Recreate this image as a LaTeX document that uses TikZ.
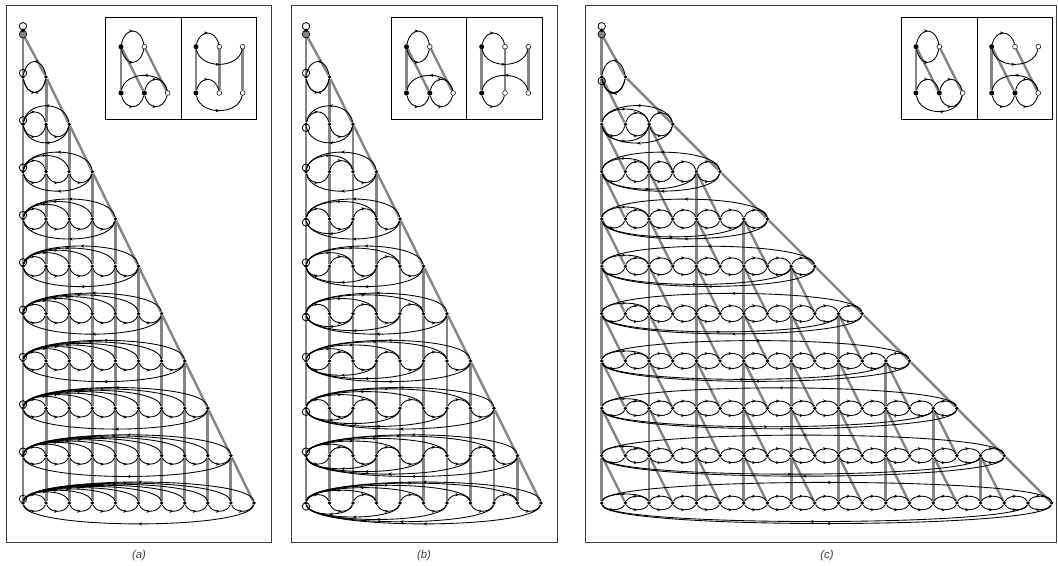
\documentclass[tikz,border=0pt]{standalone}
\usepackage{fontspec}
\setsansfont{Liberation Sans}
\usepackage{xcolor}
\usetikzlibrary{arrows.meta,decorations.markings,shapes}
\definecolor{ink}{HTML}{000000}
\definecolor{edgegray}{HTML}{858585}
\definecolor{framegray}{HTML}{3C3C3C}
\definecolor{capgray}{HTML}{404040}
\pgfdeclarelayer{under}
\pgfsetlayers{under,main}
\tikzset{
  dotnode/.style={circle,fill=ink,inner sep=0pt,minimum size=2.8pt},
  blacknode/.style={circle,fill=ink,inner sep=0pt,minimum size=3.8pt},
  whitenode/.style={circle,draw=ink,fill=white,line width=0.4pt,inner sep=0pt,minimum size=3.6pt},
  ringnode/.style={circle,draw=ink,line width=0.6pt,inner sep=0pt,minimum size=5.6pt},
  apexnode/.style={circle,draw=ink,fill=edgegray,line width=0.5pt,inner sep=0pt,minimum size=5.6pt},
  arcline/.style={draw=ink,line width=0.65pt,postaction={decorate},
    decoration={markings,mark=at position 0.5 with {\arrow{Stealth[length=2.6pt,width=2.4pt]}}}},
  grayedge/.style={draw=edgegray,line width=1.8pt},
  grayvert/.style={draw=edgegray,line width=2.12pt},
  framebox/.style={draw=framegray,line width=0.6pt},
  insetbox/.style={draw=ink,line width=0.7pt},
  caption/.style={font=\fontsize{8.5}{10}\sffamily\itshape,text=capgray}
}
% arcs between two named nodes, #3 is the height in px; rev variants run right to left
\newcommand{\uparc}[3]{\draw[arcline] (#1) .. controls +(4,{-1.333*(#3)}) and +(-4,{-1.333*(#3)}) .. (#2);}
\newcommand{\lowarc}[3]{\draw[arcline] (#1) .. controls +(4,{1.333*(#3)}) and +(-4,{1.333*(#3)}) .. (#2);}
\newcommand{\uprev}[3]{\draw[arcline] (#1) .. controls +(-4,{-1.333*(#3)}) and +(4,{-1.333*(#3)}) .. (#2);}
\newcommand{\lowrev}[3]{\draw[arcline] (#1) .. controls +(-4,{1.333*(#3)}) and +(4,{1.333*(#3)}) .. (#2);}
% the end points of one gadget
\newcommand{\gadgetnodes}[8]{
  \node[blacknode] (#1-t0) at (#2,46.7) {};
  \node[whitenode] (#1-t1) at (#2+23.3,46.7) {};
  \node[#3] (#1-t2) at (#2+46.6,46.7) {};
  \node[blacknode] (#1-b0) at (#2,93) {};
  \node[#4] (#1-b1) at (#2+23.3,93) {};
  \node[whitenode] (#1-b2) at (#2+46.6,93) {};
  \begin{pgfonlayer}{under}
    \draw[grayvert] (#1-t0) -- (#1-b0);
    \draw[grayedge] (#5) -- (#6);
    \draw[grayedge] (#7) -- (#8);
  \end{pgfonlayer}
}
\tikzset{nonode/.style={inner sep=0pt,minimum size=0pt}}
\begin{document}
\begin{tikzpicture}[x=0.75pt,y=-0.75pt]
  \useasboundingbox (0,0) rectangle (1058,566);
  % ---- frames and captions ----
  \draw[framebox] (6,5) rectangle (271,542);
  \draw[framebox] (291,5) rectangle (557,542);
  \draw[framebox] (585,5) rectangle (1056,542);
  \node[caption] (capa) at (139,556) {(a)};
  \node[caption] (capb) at (424,556) {(b)};
  \node[caption] (capc) at (827,556) {(c)};
  % ---- panel a: full fan over a lower wave ----
  \begin{scope}[shift={(23,0)}]
    \node[apexnode] (a-apex) at (0,34.3) {};
    \node[ringnode] (a-top) at (0,26.3) {};
    \node[dotnode] (a-tip) at (0,30.3) {};
    \foreach \k in {1,...,10}{
      \pgfmathsetmacro{\yk}{29.67+47.33*\k}
      \foreach \i in {0,...,\k}{
        \node[dotnode] (a-\k-\i) at (23.1*\i,\yk) {};
      }
      \node[ringnode] (a-ring-\k) at (0,\yk-4) {};
    }
    \begin{pgfonlayer}{under}
      \draw[grayvert] (a-apex) -- (a-1-0);
      \draw[grayedge] (a-apex) -- (a-1-1);
      \foreach \k [evaluate=\k as \kn using int(\k+1)] in {1,...,9}{
        \draw[grayedge] (a-\k-\k) -- (a-\kn-\kn);
        \foreach \i in {0,...,\k}{
          \draw[grayvert] (a-\k-\i) -- (a-\kn-\i);
        }
      }
    \end{pgfonlayer}
    \foreach \k in {1,...,10}{
      \pgfmathsetmacro{\hu}{4.5+10.5/sqrt(\k)}
      \pgfmathsetmacro{\hH}{21-6/\k}
      \pgfmathtruncatemacro{\km}{\k-1}
      \foreach \i in {1,...,\k}{
        \pgfmathtruncatemacro{\ip}{\i-1}
        \lowarc{a-\k-\ip}{a-\k-\i}{\hu}
        \pgfmathsetmacro{\rr}{\ip/max(\km,1)}
        \pgfmathsetmacro{\hj}{\hu+(\hH-\hu)*(0.5*\rr+0.5*sqrt(\rr))}
        \ifnum\i=\k\relax
          \uprev{a-\k-\i}{a-\k-0}{\hj}
        \else
          \uparc{a-\k-0}{a-\k-\i}{\hj}
        \fi
      }
      \lowrev{a-\k-\k}{a-\k-0}{\hH}
    }
  \end{scope}
  % ---- panel b: alternating wave, fan goes up and down ----
  \begin{scope}[shift={(306,0)}]
    \node[apexnode] (b-apex) at (0,34.3) {};
    \node[ringnode] (b-top) at (0,26.3) {};
    \node[dotnode] (b-tip) at (0,30.3) {};
    \foreach \k in {1,...,10}{
      \pgfmathsetmacro{\yk}{29.67+47.33*\k}
      \foreach \i in {0,...,\k}{
        \node[dotnode] (b-\k-\i) at (23.5*\i,\yk) {};
      }
      \ifodd\k\relax
        \node[ringnode] (b-ring-\k) at (0,\yk-4) {};
      \else
        \node[ringnode] (b-ring-\k) at (0,\yk+3.5) {};
      \fi
    }
    \begin{pgfonlayer}{under}
      \draw[grayvert] (b-apex) -- (b-1-0);
      \draw[grayedge] (b-apex) -- (b-1-1);
      \foreach \k [evaluate=\k as \kn using int(\k+1)] in {1,...,9}{
        \draw[grayedge] (b-\k-\k) -- (b-\kn-\kn);
        \foreach \i in {0,...,\k}{
          \draw[grayvert] (b-\k-\i) -- (b-\kn-\i);
        }
      }
    \end{pgfonlayer}
    \foreach \k in {1,...,10}{
      \pgfmathsetmacro{\hu}{4.5+10.5/sqrt(\k)}
      \pgfmathsetmacro{\hH}{21-6/\k}
      \pgfmathtruncatemacro{\km}{\k-1}
      \foreach \i in {1,...,\k}{
        \pgfmathtruncatemacro{\ip}{\i-1}
        \pgfmathtruncatemacro{\gap}{\k-\ip}
        \ifodd\gap\relax
          \lowarc{b-\k-\ip}{b-\k-\i}{\hu}
        \else
          \uparc{b-\k-\ip}{b-\k-\i}{\hu}
        \fi
        \ifnum\i>1\relax
          \pgfmathsetmacro{\rr}{\ip/max(\km,1)}
          \pgfmathsetmacro{\hj}{\hu+(\hH-\hu)*(0.5*\rr+0.5*sqrt(\rr))}
          \pgfmathtruncatemacro{\gapj}{\k-\i}
          \ifodd\gapj\relax
            \uparc{b-\k-0}{b-\k-\i}{\hj}
          \else
            \lowrev{b-\k-\i}{b-\k-0}{\hj}
          \fi
        \fi
      }
      \uprev{b-\k-\k}{b-\k-0}{\hH}
      \ifnum\k=1\relax
        \lowrev{b-\k-\k}{b-\k-0}{\hH}
      \fi
    }
  \end{scope}
  % ---- panel c: two new nodes per row ----
  \begin{scope}[shift={(601.7,0)}]
    \node[apexnode] (c-apex) at (0,34.3) {};
    \node[ringnode] (c-top) at (0,26.3) {};
    \node[dotnode] (c-tip) at (0,30.3) {};
    \node[ringnode] (c-ring) at (0,81) {};
    \foreach \k in {1,...,10}{
      \pgfmathsetmacro{\yk}{29.67+47.33*\k}
      \pgfmathtruncatemacro{\nk}{2*\k-1}
      \foreach \i in {0,...,\nk}{
        \node[dotnode] (c-\k-\i) at (23.68*\i,\yk) {};
      }
    }
    \begin{pgfonlayer}{under}
      \draw[grayvert] (c-apex) -- (c-1-0);
      \draw[grayedge] (c-apex) -- (c-1-1);
      \foreach \k in {1,...,9}{
        \pgfmathtruncatemacro{\kn}{\k+1}
        \pgfmathtruncatemacro{\nk}{2*\k-1}
        \pgfmathtruncatemacro{\nn}{2*\k+1}
        \draw[grayedge] (c-\k-\nk) -- (c-\kn-\nn);
        \foreach \i in {1,...,\k}{
          \pgfmathtruncatemacro{\ev}{2*\i-2}
          \pgfmathtruncatemacro{\od}{2*\i-1}
          \draw[grayvert] (c-\k-\ev) -- (c-\kn-\ev);
          \draw[grayedge] (c-\k-\ev) -- (c-\kn-\od);
        }
      }
    \end{pgfonlayer}
    \foreach \k in {1,...,10}{
      \pgfmathtruncatemacro{\nk}{2*\k-1}
      \pgfmathtruncatemacro{\nm}{2*\k-2}
      \ifnum\k=1\relax
        \pgfmathsetmacro{\hu}{15}
      \else
        \pgfmathsetmacro{\hu}{2.5+12/sqrt(\k)}
      \fi
      \pgfmathsetmacro{\hH}{20.5-4.5/\k}
      \pgfmathsetmacro{\hs}{1.35*\hu}
      \foreach \i in {1,...,\nk}{
        \pgfmathtruncatemacro{\ip}{\i-1}
        \lowarc{c-\k-\ip}{c-\k-\i}{\hu}
        \ifnum\i>1\relax
          \uparc{c-\k-\ip}{c-\k-\i}{\hu}
        \fi
      }
      \uprev{c-\k-\nk}{c-\k-0}{\hH}
      \lowrev{c-\k-\nk}{c-\k-0}{\hH}
      \ifnum\k>1\relax
        \uparc{c-\k-0}{c-\k-2}{\hs}
        \pgfmathsetmacro{\hl}{\hH-2}
        \lowarc{c-\k-0}{c-\k-\nm}{\hl}
      \fi
    }
  \end{scope}
  % ---- insets ----
  \draw[insetbox] (105.7,17.3) rectangle (256.7,119.3);
  \draw[insetbox] (181.3,17.3) -- (181.3,119.3);
  \draw[insetbox] (391.3,17.3) rectangle (542.3,119.3);
  \draw[insetbox] (466.7,17.3) -- (466.7,119.3);
  \draw[insetbox] (901,17.3) rectangle (1052,119.3);
  \draw[insetbox] (977,17.3) -- (977,119.3);
  % inset a, left
  \gadgetnodes{al}{121}{nonode}{blacknode}{al-t0}{al-b1}{al-t1}{al-b2}
  \uparc{al-t0}{al-t1}{15} \lowarc{al-t0}{al-t1}{15}
  \uprev{al-b2}{al-b0}{17} \uparc{al-b1}{al-b2}{13}
  \lowarc{al-b0}{al-b1}{13} \lowarc{al-b1}{al-b2}{13}
  % inset a, right
  \gadgetnodes{ar}{196}{whitenode}{whitenode}{ar-t1}{ar-b1}{ar-t2}{ar-b2}
  \uparc{ar-t0}{ar-t1}{13} \lowarc{ar-t0}{ar-t2}{17}
  \uparc{ar-b0}{ar-b1}{13} \lowarc{ar-b0}{ar-b2}{17}
  % inset b, left
  \gadgetnodes{bl}{406.5}{nonode}{blacknode}{bl-t0}{bl-b1}{bl-t1}{bl-b2}
  \uparc{bl-t0}{bl-t1}{15} \lowarc{bl-t0}{bl-t1}{15}
  \uprev{bl-b2}{bl-b0}{17} \uparc{bl-b1}{bl-b2}{13}
  \lowarc{bl-b0}{bl-b1}{13} \lowarc{bl-b1}{bl-b2}{13}
  % inset b, right
  \gadgetnodes{br}{481.7}{whitenode}{whitenode}{br-t1}{br-b1}{br-t2}{br-b2}
  \uparc{br-t0}{br-t1}{13} \lowarc{br-t0}{br-t2}{17}
  \uprev{br-b2}{br-b0}{17} \lowarc{br-b0}{br-b1}{13}
  % inset c, left
  \gadgetnodes{cl}{916}{nonode}{blacknode}{cl-t0}{cl-b1}{cl-t1}{cl-b2}
  \uparc{cl-t0}{cl-t1}{15} \lowarc{cl-t0}{cl-t1}{15}
  \uparc{cl-b0}{cl-b1}{13} \uparc{cl-b1}{cl-b2}{13}
  \lowrev{cl-b2}{cl-b0}{18} \lowarc{cl-b1}{cl-b2}{13}
  % inset c, right
  \gadgetnodes{cr}{991.7}{whitenode}{blacknode}{cr-t0}{cr-b1}{cr-t1}{cr-b2}
  \uparc{cr-t0}{cr-t1}{13} \lowarc{cr-t0}{cr-t2}{17}
  \uprev{cr-b2}{cr-b0}{17} \uparc{cr-b1}{cr-b2}{13}
  \lowarc{cr-b0}{cr-b1}{13} \lowarc{cr-b1}{cr-b2}{13}
\end{tikzpicture}
\end{document}
